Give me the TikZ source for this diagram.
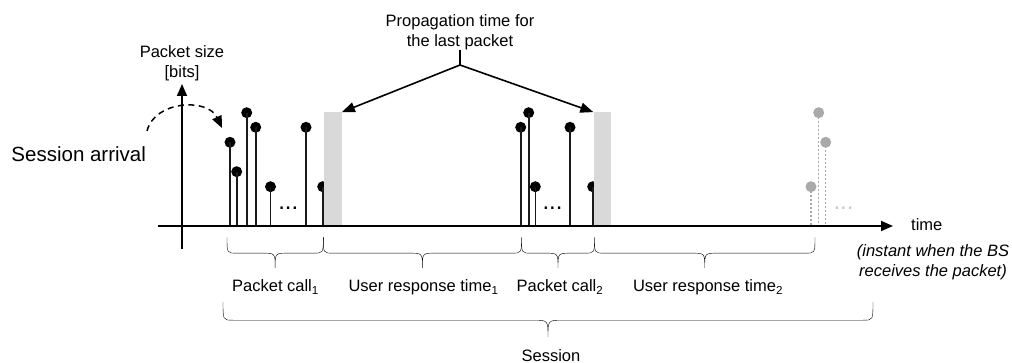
\documentclass[tikz,border=0pt]{standalone}
\usepackage{fontspec}
\setmainfont{Liberation Sans}
\usetikzlibrary{arrows.meta,calc}
\definecolor{bargray}{HTML}{D9D9D9}
\definecolor{dotgray}{HTML}{A9A9A9}
\definecolor{ellgray}{HTML}{C8C8C8}
\definecolor{ink}{HTML}{1A1A1A}
\begin{document}
\begin{tikzpicture}[x=1pt,y=-1pt,
  lbl/.style={font=\fontsize{16.5}{20}\selectfont, inner sep=0pt, align=center},
  big/.style={font=\fontsize{20.5}{24}\selectfont, inner sep=0pt},
  ell/.style={font=\fontsize{24}{24}\selectfont, inner sep=0pt},
  stem/.style={line width=1.6pt, ink},
  gstem/.style={line width=1.5pt, dotgray, dash pattern=on 2pt off 2pt},
  dot/.style={circle, fill=black, inner sep=0pt, minimum size=11pt},
  gdot/.style={circle, fill=dotgray, inner sep=0pt, minimum size=11pt},
  bar/.style={fill=bargray, draw=none, inner sep=0pt, minimum width=17.5pt, minimum height=113.5pt, anchor=south west},
  ax/.style={line width=1.8pt, -{Triangle[length=12pt,width=10pt]}},
  parr/.style={line width=1.6pt, -{Triangle[length=13pt,width=10pt]}},
  brc/.style={line width=1.2pt, ink, to path={let \p1=(\tikztostart), \p2=(\tikztotarget), \p3=($(\p1)!0.5!(\p2)$) in
    (\p1) .. controls (\x1,\y1-0.52*#1) .. (\x1+10pt,\y1-0.52*#1)
    -- (\x3-0.42*#1,\y3-0.52*#1) .. controls (\x3,\y3-0.52*#1) .. (\x3,\y3-#1)
    .. controls (\x3,\y3-0.52*#1) .. (\x3+0.42*#1,\y3-0.52*#1)
    -- (\x2-10pt,\y2-0.52*#1) .. controls (\x2,\y2-0.52*#1) .. (\x2,\y2)}},
  brc/.default=30.5pt
]
\useasboundingbox (0,0) rectangle (1012,363);

% stems and dots
\foreach \i/\x/\y in {1/230/142.3, 2/236.7/171.7, 3/246.7/112.7, 4/255.7/127.3, 5/270.5/186.7, 6/306/127.3, 7/322.7/186.7,
                      8/520.7/127.3, 9/528.7/112.7, 10/535.3/186.7, 11/570/127.3, 12/592.7/186.7}{
  \coordinate (s\i) at (\x,226);
  \node[dot] (d\i) at (\x,\y) {};
  \draw[stem] (d\i.center) -- (s\i);
}
% grey future packets
\foreach \i/\x/\y in {13/811/186.7, 14/818.7/112.7, 15/825.7/142.3}{
  \coordinate (s\i) at (\x,226);
  \node[gdot] (d\i) at (\x,\y) {};
  \draw[gstem] (d\i.center) -- (s\i);
}
\node[ell] (e1) at (288.3,208) {...};
\node[ell] (e2) at (552.5,208) {...};
\node[ell, text=ellgray] (e3) at (843.5,208) {...};

% propagation bars
\node[bar] (bar1) at (324,226) {};
\node[bar] (bar2) at (593.3,226) {};

% axes
\coordinate (xa0) at (158,226);
\coordinate (xa1) at (893,226);
\coordinate (ya0) at (182,249);
\coordinate (ya1) at (182,84);
\draw[ax] (xa0) -- (xa1);
\draw[ax] (ya0) -- (ya1);

% labels
\node[lbl] (psize) at (182,63) {Packet size\\{}[bits]};
\node[lbl, anchor=base west] (time) at (911,230.7) {time};
\node[lbl, font=\fontsize{16.5}{20}\selectfont\itshape] (inst) at (933,262.4) {(instant when the BS\\receives the packet)};
\node[big, anchor=base] (sarr) at (78.7,161.7) {Session arrival};

% session arrival dashed arrow
\coordinate (sa0) at (147,131);
\coordinate (sa1) at (222,128);
\draw[line width=1.5pt, dash pattern=on 6pt off 4.5pt, -{Triangle[length=12pt,width=10pt]}]
  (sa0) .. controls (155,100) and (208,98) .. (sa1);

% propagation label and arrows
\node[lbl] (prop) at (460,32.5) {Propagation time for\\the last packet};
\coordinate (j) at (460,65);
\draw[line width=1.6pt] (prop.south) -- (j);
\draw[parr] (j) -- (bar1.north east);
\draw[parr] (j) -- (bar2.north west);

% braces
\coordinate (b0) at (227,237.3);
\coordinate (b1) at (323.3,237.3);
\coordinate (b2) at (521.5,237.3);
\coordinate (b3) at (594.5,237.3);
\coordinate (b4) at (815,237.3);
\draw (b0) to[brc] (b1);
\draw (b1) to[brc] (b2);
\draw (b2) to[brc] (b3);
\draw (b3) to[brc] (b4);
\coordinate (c0) at (223,302);
\coordinate (c1) at (873,302);
\draw (c0) to[brc=35pt] (c1);

\node[lbl, anchor=base] (pc1) at (275.5,291.7) {Packet call\textsubscript{1}};
\node[lbl, anchor=base] (ur1) at (423.5,291.7) {User response time\textsubscript{1}};
\node[lbl, anchor=base] (pc2) at (560,291.7) {Packet call\textsubscript{2}};
\node[lbl, anchor=base] (ur2) at (708,291.7) {User response time\textsubscript{2}};
\node[lbl, anchor=base] (sess) at (551,361.5) {Session};
\end{tikzpicture}
\end{document}
